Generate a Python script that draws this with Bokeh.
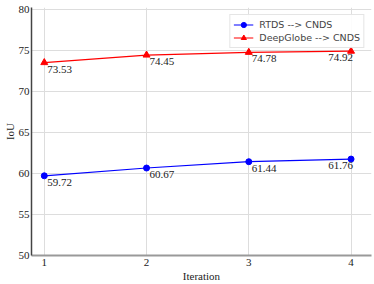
from bokeh.plotting import figure
from bokeh.models import ColumnDataSource, FixedTicker, Range1d, Legend, LegendItem
from bokeh.core.properties import value
from bokeh.embed import file_html
from bokeh.resources import INLINE

iterations = [1, 2, 3, 4]
rtds = [59.72, 60.67, 61.44, 61.76]
deepglobe = [73.53, 74.45, 74.78, 74.92]
rtds_label = "RTDS --> CNDS"
deep_label = "DeepGlobe --> CNDS"
y_ticks = [50, 55, 60, 65, 70, 75, 80]
x_title = "Iteration"
y_title = "IoU"

SERIF = "Liberation Serif"

p = figure(width=374, height=284, output_backend="svg", toolbar_location=None,
           x_range=Range1d(0.875, 4.2), y_range=Range1d(50, 80.25),
           min_border_left=0, min_border_right=3, min_border_top=7, min_border_bottom=0)
p.outline_line_color = None
p.background_fill_color = "white"

for ax in (p.xaxis[0], p.yaxis[0]):
    ax.major_tick_line_color = None
    ax.minor_tick_line_color = None
    ax.major_tick_out = 0
    ax.major_tick_in = 0
    ax.major_label_text_font = SERIF
    ax.major_label_text_font_size = "11px"
    ax.major_label_text_color = "#222222"
    ax.axis_label_text_font = SERIF
    ax.axis_label_text_font_size = "11px"
    ax.axis_label_text_font_style = "normal"
    ax.axis_label_text_color = "#222222"

p.xaxis.major_label_standoff = 3
p.xaxis.axis_label_standoff = 1
p.yaxis.major_label_standoff = 2
p.yaxis.axis_label_standoff = 0

p.xaxis.ticker = FixedTicker(ticks=iterations)
p.yaxis.ticker = FixedTicker(ticks=y_ticks)
p.xaxis.axis_label = x_title
p.yaxis.axis_label = y_title
p.yaxis.axis_line_color = "#444444"
p.yaxis.axis_line_width = 1.5
p.xaxis.axis_line_color = "#999999"
p.xaxis.axis_line_width = 2

p.xgrid.grid_line_color = "#dddddd"
p.ygrid.grid_line_color = "#dddddd"

src_b = ColumnDataSource(dict(x=iterations, y=rtds, t=[f"{v:.2f}" for v in rtds]))
src_r = ColumnDataSource(dict(x=iterations, y=deepglobe, t=[f"{v:.2f}" for v in deepglobe]))

lb = p.line("x", "y", source=src_b, line_color="#0000ff", line_width=1.2)
mb = p.scatter("x", "y", source=src_b, marker="circle", size=6, color="#0000ff")
lr = p.line("x", "y", source=src_r, line_color="#ff0000", line_width=1.2)
mr = p.scatter("x", "y", source=src_r, marker="triangle", size=7, color="#ff0000")

for src in (src_b, src_r):
    n = len(iterations)
    first = ColumnDataSource(dict(x=src.data["x"][:n-1], y=src.data["y"][:n-1], t=src.data["t"][:n-1]))
    last = ColumnDataSource(dict(x=src.data["x"][n-1:], y=src.data["y"][n-1:], t=src.data["t"][n-1:]))
    p.text("x", "y", text="t", source=first, text_font=value(SERIF),
           text_font_size="11px", text_color="#222222", text_align="left",
           text_baseline="top", x_offset=3, y_offset=3)
    p.text("x", "y", text="t", source=last, text_font=value(SERIF),
           text_font_size="11px", text_color="#222222", text_align="right",
           text_baseline="top", x_offset=2, y_offset=3)

legend = Legend(items=[LegendItem(label=rtds_label, renderers=[lb, mb]),
                       LegendItem(label=deep_label, renderers=[lr, mr])],
                location="top_right")
legend.label_text_font = "DejaVu Sans"
legend.label_text_font_size = "9.5px"
legend.label_height = 13
legend.glyph_height = 13
legend.glyph_width = 20
legend.spacing = 0
legend.padding = 3
legend.margin = 7
legend.label_standoff = 6
legend.border_line_color = "#cccccc"
legend.background_fill_alpha = 0.9
p.add_layout(legend)

open("out.html", "w").write(file_html(p, INLINE))
